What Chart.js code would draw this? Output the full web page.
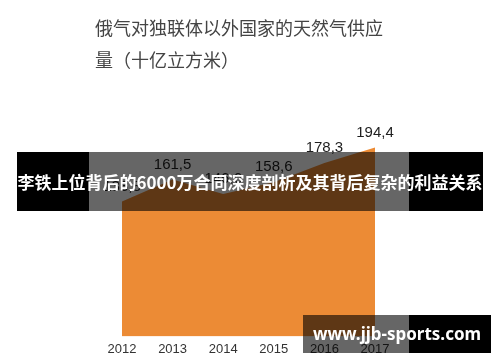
<!DOCTYPE html>
<html>
<head>
<meta charset="utf-8">
<script src="https://cdn.jsdelivr.net/npm/chart.js@4.4.1/dist/chart.umd.min.js"></script>
<style>
  html, body { margin: 0; padding: 0; background: #fff; }
  #wrap { position: relative; width: 500px; height: 362px; overflow: hidden; }
  #chart { position: absolute; left: 0; top: 0; }
  .title {
    position: absolute; left: 95px; color: #444;
    font: 18px "Noto Sans CJK SC", sans-serif; white-space: nowrap;
  }
  #banner {
    position: absolute; left: 17px; top: 152px; width: 466px; height: 59px;
    background: linear-gradient(to right, #000 0, #000 72px, rgba(0,0,0,0.6) 72px, rgba(0,0,0,0.6) 392px, #000 392px);
    color: #fff; font: bold 17px "Noto Sans CJK SC", sans-serif;
    line-height: 59px; text-align: center; white-space: nowrap;
  }
  #mark {
    position: absolute; left: 303px; top: 315px; width: 188px; height: 38px;
    background: linear-gradient(to right, rgba(0,0,0,0.6) 0, rgba(0,0,0,0.6) 106px, #000 106px);
    color: #fff; font: bold 17px "Noto Sans", sans-serif;
    line-height: 38px; text-align: center; white-space: nowrap;
  }
</style>
</head>
<body>
<div id="wrap">
  <canvas id="chart" width="500" height="362"></canvas>
  <div class="title" style="top:14px">俄气对独联体以外国家的天然气供应</div>
  <div class="title" style="top:46px">量（十亿立方米）</div>
  <div id="banner">李铁上位背后的6000万合同深度剖析及其背后复杂的利益关系</div>
  <div id="mark">www.jjb-sports.com</div>
</div>
<script>
const years = ['2012', '2013', '2014', '2015', '2016', '2017'];
const supply = [138.8, 161.5, 146.6, 158.6, 178.3, 194.4];

// value labels above each point, comma decimal like the source
const valueLabels = {
  id: 'valueLabels',
  afterDatasetsDraw(chart) {
    const ctx = chart.ctx;
    const meta = chart.getDatasetMeta(0);
    ctx.save();
    ctx.font = '15px "Liberation Sans", sans-serif';
    ctx.fillStyle = '#1e1e1e';
    ctx.textAlign = 'center';
    ctx.textBaseline = 'middle';
    meta.data.forEach((pt, i) => {
      ctx.fillText(supply[i].toFixed(1).replace('.', ','), pt.x, pt.y - 15);
    });
    ctx.restore();
  }
};

const ctx = document.getElementById('chart').getContext('2d');
new Chart(ctx, {
  type: 'line',
  data: {
    labels: years,
    datasets: [{
      data: supply,
      fill: 'origin',
      backgroundColor: '#ec8b35',
      borderColor: '#ec8b35',
      borderWidth: 0,
      pointRadius: 0,
      tension: 0
    }]
  },
  options: {
    responsive: false,
    animation: false,
    layout: { padding: { left: 122, right: 125, top: 142, bottom: 0 } },
    plugins: {
      legend: { display: false },
      tooltip: { enabled: false }
    },
    scales: {
      x: {
        grid: { display: false, drawTicks: false, tickLength: 0 },
        border: { display: false },
        ticks: {
          color: '#333',
          padding: 5,
          maxRotation: 0,
          autoSkip: false,
          font: { family: '"Liberation Sans", sans-serif', size: 13 }
        }
      },
      y: {
        display: false,
        min: 0,
        max: 200
      }
    }
  },
  plugins: [valueLabels]
});
</script>
</body>
</html>
